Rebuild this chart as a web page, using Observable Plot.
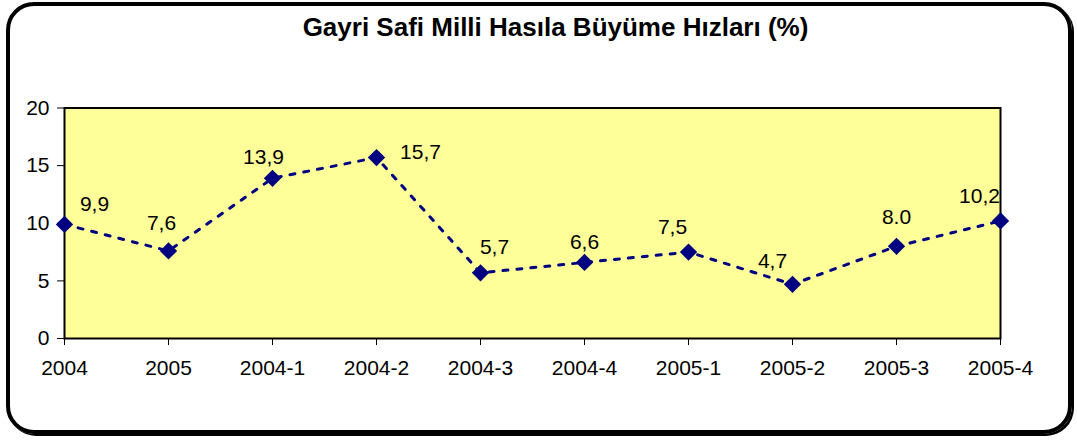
<!DOCTYPE html>
<html>
<head>
<meta charset="utf-8">
<script src="https://cdn.jsdelivr.net/npm/d3@7"></script>
<script src="https://cdn.jsdelivr.net/npm/@observablehq/plot@0.6"></script>
<style>
  html, body { margin: 0; padding: 0; background: #fff; }
  body { width: 1077px; height: 441px; position: relative; overflow: hidden; font-family: "Liberation Sans", Arial, sans-serif; }
  #frame { position: absolute; left: 6px; top: 2px; width: 1066px; height: 432px; box-sizing: border-box;
           border: 4px solid #000; border-radius: 28px; box-shadow: 2px 2px 0 #000; }
  #title { position: absolute; left: 0; top: -3px; width: 1111px; height: 60px; line-height: 60px; text-align: center;
           font-weight: bold; font-size: 26px; color: #000; }
  #chart { position: absolute; left: 0; top: 60px; }
</style>
</head>
<body>
<div id="frame"></div>
<div id="title">Gayri Safi Milli Hasıla Büyüme Hızları (%)</div>
<div id="chart"></div>
<script>
const categories = ["2004", "2005", "2004-1", "2004-2", "2004-3", "2004-4", "2005-1", "2005-2", "2005-3", "2005-4"];
const values = [9.9, 7.6, 13.9, 15.7, 5.7, 6.6, 7.5, 4.7, 8.0, 10.2];
const valueLabels = ["9,9", "7,6", "13,9", "15,7", "5,7", "6,6", "7,5", "4,7", "8.0", "10,2"];
const yTicks = [0, 5, 10, 15, 20];

const data = categories.map((c, i) => ({cat: c, value: values[i], label: valueLabels[i]}));

// label placement nudges (pixels) relative to each point, as placed in the original chart
const nudges = [[30, -20], [-7, -28], [-9, -21], [44, -5], [14, -26], [0, -20], [-16, -25], [-20, -23], [0, -29], [-21, -25]];

const navy = "#000080";
const font = "Liberation Sans, Arial, sans-serif";

const chart = Plot.plot({
  width: 1077,
  height: 381,
  marginLeft: 64,
  marginRight: 77,
  marginTop: 47.5,
  marginBottom: 103,
  style: {fontFamily: font, fontSize: "21px", color: "#000", background: "transparent", overflow: "visible"},
  x: {type: "point", domain: categories, padding: 0},
  y: {domain: [0, 20]},
  marks: [
    Plot.frame({fill: "#FFFF99", stroke: "#000", strokeWidth: 2}),
    Plot.axisY({ticks: yTicks, tickSize: 7, tickPadding: 8, label: null, fontSize: 21, stroke: "#000"}),
    Plot.axisX({tickSize: 7, tickPadding: 15, label: null, fontSize: 21, stroke: "#000"}),
    Plot.line(data, {x: "cat", y: "value", stroke: navy, strokeWidth: 3, strokeDasharray: "5,9"}),
    Plot.dot(data, {x: "cat", y: "value", symbol: "diamond2", r: 7.8, fill: navy, stroke: "none"}),
    ...data.map((d, i) => Plot.text([d], {x: "cat", y: "value", text: "label", dx: nudges[i][0], dy: nudges[i][1], fontSize: 21, fill: "#000"}))
  ]
});
document.getElementById("chart").appendChild(chart);
</script>
</body>
</html>
